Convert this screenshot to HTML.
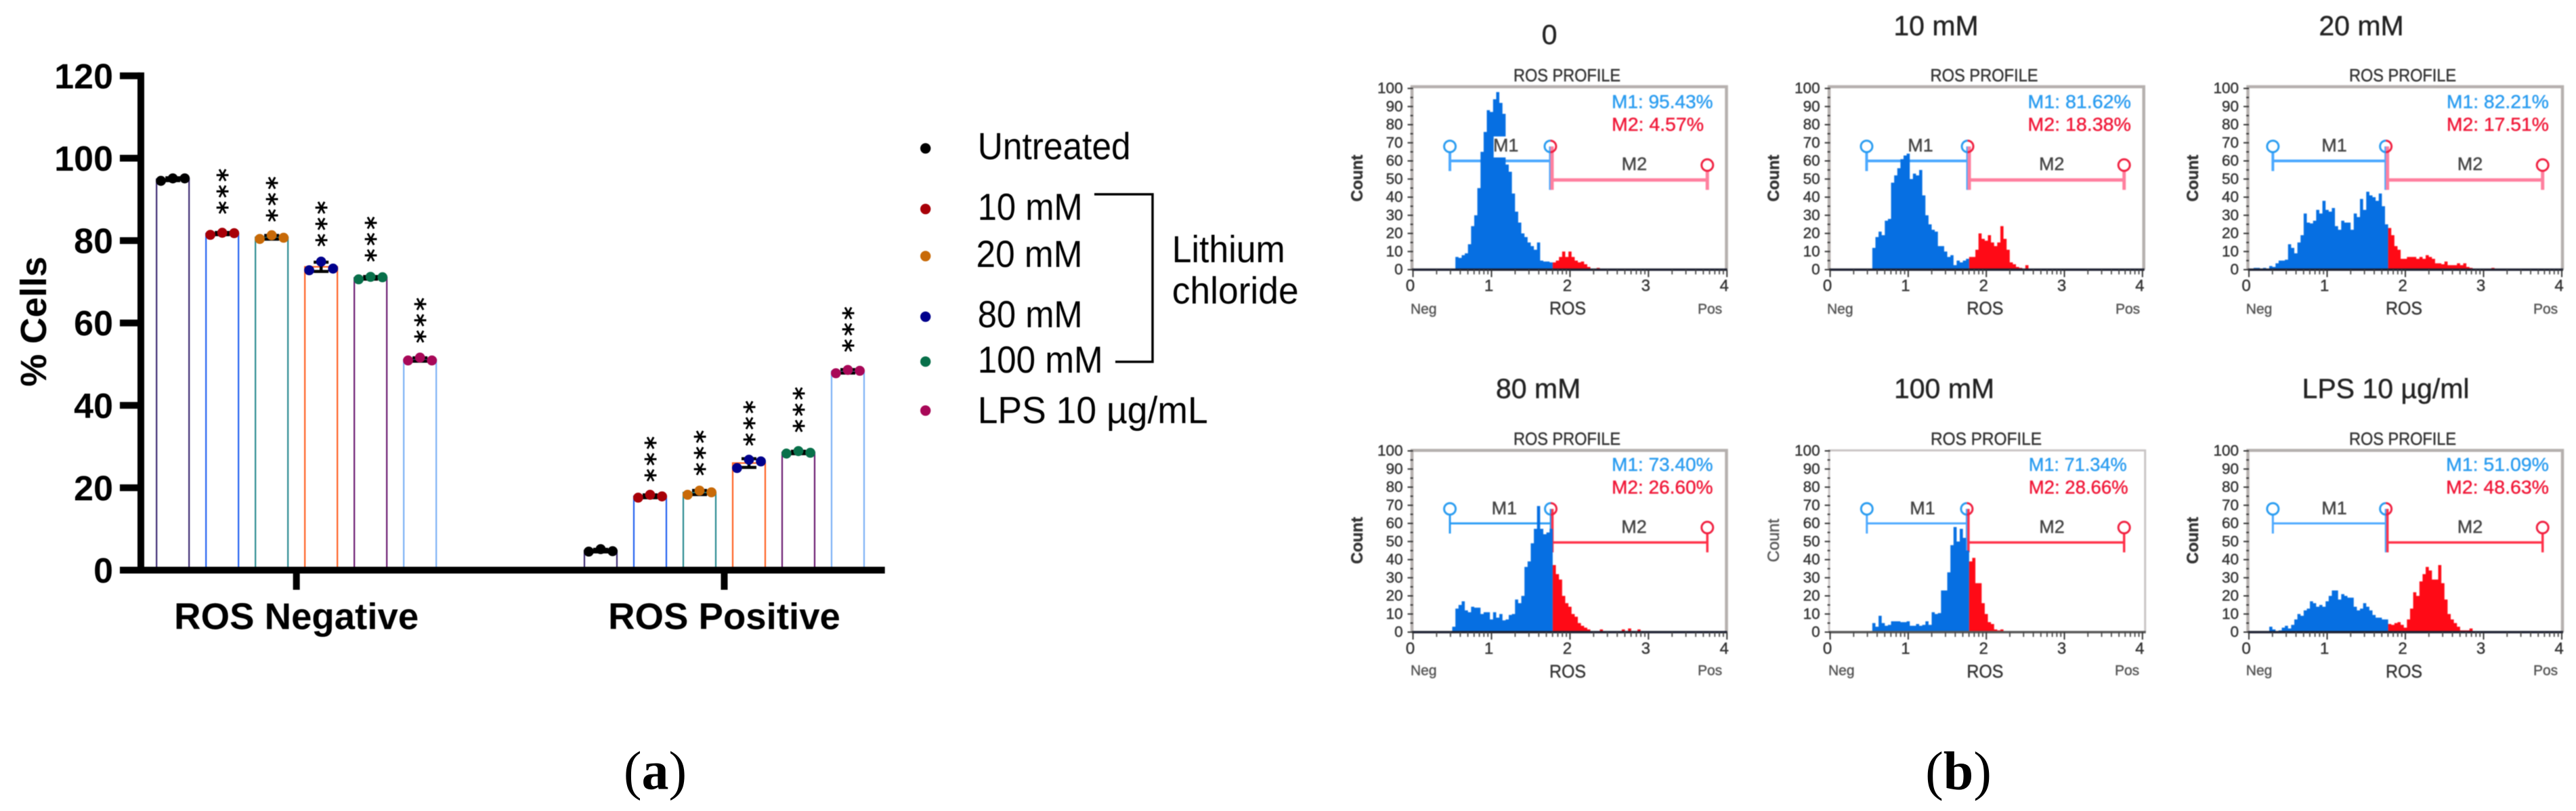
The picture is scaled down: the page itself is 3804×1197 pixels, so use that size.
<!DOCTYPE html>
<html lang="en">
<head>
<meta charset="utf-8">
<title>ROS profile figure</title>
<style>
html,body{margin:0;padding:0;background:#fff;}
svg{display:block;font-family:"Liberation Sans",Arial,sans-serif;}
#panels text{stroke-width:.45px;}
</style>
</head>
<body>
<svg id="figure" xmlns="http://www.w3.org/2000/svg" width="3804" height="1197" viewBox="0 0 3804 1197">
  <rect x="0" y="0" width="3804" height="1197" fill="#ffffff"/>
  <g id="barChart" style="filter:blur(.5px)"></g>
  <g id="legend" style="filter:blur(.5px)" fill="#000" font-size="56">
    <circle cx="1366.7" cy="219" r="7.7" fill="#000000"/>
    <text x="1443.7" y="234.9" textLength="226" lengthAdjust="spacingAndGlyphs">Untreated</text>
    <circle cx="1366.7" cy="308.5" r="7.7" fill="#a80008"/>
    <text x="1443.7" y="324.7" textLength="155" lengthAdjust="spacingAndGlyphs">10 mM</text>
    <circle cx="1366.7" cy="378" r="7.7" fill="#c86a08"/>
    <text x="1441.5" y="393.8" textLength="157" lengthAdjust="spacingAndGlyphs">20 mM</text>
    <circle cx="1366.7" cy="467.4" r="7.7" fill="#00008c"/>
    <text x="1443.7" y="483.2" textLength="155" lengthAdjust="spacingAndGlyphs">80 mM</text>
    <circle cx="1366.7" cy="533.7" r="7.7" fill="#08704a"/>
    <text x="1443.7" y="549.9" textLength="185" lengthAdjust="spacingAndGlyphs">100 mM</text>
    <circle cx="1366.7" cy="606" r="7.7" fill="#a80858"/>
    <text x="1443.7" y="624.6" textLength="340" lengthAdjust="spacingAndGlyphs">LPS 10 µg/mL</text>
    <path d="M1616 286.8H1702V534H1647" fill="none" stroke="#000" stroke-width="3.5"/>
    <text x="1730.7" y="386.8" textLength="167" lengthAdjust="spacingAndGlyphs">Lithium</text>
    <text x="1730.7" y="448" textLength="187" lengthAdjust="spacingAndGlyphs">chloride</text>
  </g>
  <g id="panels" style="filter:blur(.9px)"></g>
  <text x="967.5" y="1164.5" text-anchor="middle" font-family="'Liberation Serif',serif" font-size="80">(<tspan font-weight="bold">a</tspan>)</text>
  <text x="2892" y="1165" text-anchor="middle" font-family="'Liberation Serif',serif" font-size="80">(<tspan font-weight="bold">b</tspan>)</text>
</svg>
<script>
/* ---------- bar chart data ---------- */
const groupNames = ['ROS Negative', 'ROS Positive'];
const categories = ['Untreated', '10 mM', '20 mM', '80 mM', '100 mM', 'LPS 10 ug/mL'];
const yTickValues = [0, 20, 40, 60, 80, 100, 120];
const negUntreated = [94.5, 95.1, 95.1];
const neg10mM = [81.4, 81.9, 81.8];
const neg20mM = [80.4, 81.3, 80.7];
const neg80mM = [72.8, 74.9, 73.2];
const neg100mM = [70.6, 71.2, 71.1];
const negLPS = [50.9, 51.6, 50.9];
const posUntreated = [4.5, 5.1, 4.6];
const pos10mM = [17.6, 18.3, 17.9];
const pos20mM = [18.3, 19.3, 18.9];
const pos80mM = [24.8, 26.8, 26.4];
const pos100mM = [28.3, 28.9, 28.5];
const posLPS = [47.8, 48.6, 48.4];
const negSignificance = [null, 88, 86.1, 80.1, 76.4, 56.7];
const posSignificance = [null, 23, 24.5, 31.7, 35, 54.5];
const barStrokes = ['#3c2a72', '#2060f0', '#2a8a90', '#ff6020', '#6a1a70', '#7ab0f5'];
const dotFills = ['#000000', '#a80008', '#c86a08', '#00008c', '#08704a', '#a80858'];

/* ---------- histogram data: counts per 0.04-decade bin ---------- */
const histStartBins = [14, 14, 2, 13, 14, 4];
const hist0M1 = [7,6.5,8,9,14,24,30,45,65,76,88,87,94,98,92,86,58,54,42,32,26,20,18,15,13,11,15,5,4.5,4.5,4];
const hist0M2 = [4,5,7,10,7,10,7,5,4,4.5,3,1.5,0.5,0,1];
const hist1M1 = [12,18,21,19,27,28,48,52,56,61,63,64,50,53,52,55,41,30,25,22,21,13,13,10,7,8,2.5,5,4,5,6];
const hist1M2 = [7,7,11,20,17,16,19,15,13,15,24,17,11,4,3,1.5,1,0.5,2.5];
const hist2M1 = [1,1,0.5,1,0.5,2,1.5,3.5,5,5,5.5,14,12,9,15,19,31,26,25.5,27,33,31,38,33,32,34,24,22,27,26,26,22,31,29,39,33,43,41,40,38,42,35,25];
const hist2M2 = [23,19,13,11,6,6,7,7,7,6,7,6,8,7,6,3.5,3.5,3,4.5,2.5,2.5,2.5,3.5,2.5,3.5,1.5,1,0.5,0.5,0,0.5,0.5,0.5,1];
const hist3M1 = [3,13,15,17,12,11,14,13.5,13.5,10,11,11,7,11,8,10,6.5,7,9.5,10,18,16,20,36,39,49,57,69.6,57,54,55,57];
const hist3M2 = [37,32,29,20,16,14,10,8.5,5,3.5,2.5,1.5,0.5,0,0,1.5,0,0,0,0,0,0,1.5,0,2,0,0,1.5];
const hist4M1 = [5,3,9,5,3.5,4,6,6,6,5.5,5.5,6,3.5,3.5,4.5,3.5,4,6,4,11,10,10.5,23,23,33,48,58,50,57,52,45];
const hist4M2 = [39,41,27,27,16,10,5.5,4.5,1.5,1,1.5];
const hist5M1 = [0.5,0,0,3,1.5,0.5,1,2.5,3.5,2,4,7,10,9,12,13,17,16,14,15,14,17,20,23,23,18,21,20,19,19,14,12,13,16,14,12,9.5,8,8,7,7];
const hist5M2 = [4.5,4,5,5.5,4,2.5,7,13,22,20,28,32,36,34,29,29,37,27,18,10,7,5,3,1,1,1,2];
const histM1 = [hist0M1, hist1M1, hist2M1, hist3M1, hist4M1, hist5M1];
const histM2 = [hist0M2, hist1M2, hist2M2, hist3M2, hist4M2, hist5M2];

/* gates, in axis units */
const gateStarts = [0.47, 0.467, 0.306, 0.47, 0.47, 0.306];
const gateSplits = [1.75, 1.76, 1.75, 1.755, 1.75, 1.75];
const gateEnds = [3.75, 3.765, 3.755, 3.75, 3.765, 3.755];
const gateM1Level = 60;
const gateM2Level = 49.5;
const m1Percents = ['95.43', '81.62', '82.21', '73.40', '71.34', '51.09'];
const m2Percents = ['4.57', '18.38', '17.51', '26.60', '28.66', '48.63'];
const panelTitles = ['0', '10 mM', '20 mM', '80 mM', '100 mM', 'LPS 10 µg/ml'];
const histYTicks = [0, 10, 20, 30, 40, 50, 60, 70, 80, 90, 100];
const histXTicks = [0, 1, 2, 3, 4];

/* ---------- helpers ---------- */
const NS = 'http://www.w3.org/2000/svg';
function make(tag, attrs, parent, text) {
  const el = document.createElementNS(NS, tag);
  for (const k in attrs) el.setAttribute(k, attrs[k]);
  if (text !== undefined) el.textContent = text;
  parent.appendChild(el);
  return el;
}
function mean(a) { return a.reduce((s, v) => s + v, 0) / a.length; }
function sd(a) { const m = mean(a); return Math.sqrt(a.reduce((s, v) => s + (v - m) * (v - m), 0) / (a.length - 1)); }

/* ---------- bar chart ---------- */
const barChart = document.getElementById('barChart');
const negGroup = [negUntreated, neg10mM, neg20mM, neg80mM, neg100mM, negLPS];
const posGroup = [posUntreated, pos10mM, pos20mM, pos80mM, pos100mM, posLPS];
const groupData = [negGroup, posGroup];
const groupSignificance = [negSignificance, posSignificance];
function yScale(v) { return 841.5 - 6.08 * v; }
function groupCenter(g) { return 437.7 + g * 631.8; }
function xScale(g, c) { return groupCenter(g) + (c - (categories.length - 1) / 2) * 73; }
const barWidth = 48;
const dotSpread = 17.6;

groupData.forEach(function (series, g) {
  series.forEach(function (reps, c) {
    const cx = xScale(g, c);
    const m = mean(reps);
    const s = sd(reps);
    const bar = make('rect', { x: cx - barWidth / 2, y: yScale(m), width: barWidth, height: yScale(0) - yScale(m), fill: '#fff', stroke: barStrokes[c], 'stroke-width': 2.2 }, barChart);
    
    
    const errorBar = make('path', { d: 'M' + (cx - 11) + ' ' + yScale(m + s) + 'H' + (cx + 11) + 'M' + cx + ' ' + yScale(m + s) + 'V' + yScale(m - s) + 'M' + (cx - 11) + ' ' + yScale(m - s) + 'H' + (cx + 11), fill: 'none', stroke: '#000', 'stroke-width': 4.5 }, barChart);
    
    
    reps.forEach(function (v, i) {
      const dot = make('circle', { cx: cx + (i - 1) * dotSpread, cy: yScale(v), r: 7.4, fill: dotFills[c] }, barChart);
      
      
    });
    const level = groupSignificance[g][c];
    if (level !== null) {
      const fs = 38;
      const star = make('text', { transform: 'translate(' + (cx + 1 + 0.5 * fs) + ',' + (yScale(level) + 0.26 * fs) + ') rotate(-90)', 'font-family': "'DejaVu Sans',sans-serif", 'font-weight': 'bold', 'font-size': fs, 'letter-spacing': 4.1, fill: '#000' }, barChart, '***');
      
      
    }
  });
});

const yAxisLine = make('rect', { x: 203, y: yScale(120) - 5, width: 10, height: yScale(0) - yScale(120) + 10, fill: '#000' }, barChart);


const xAxisLine = make('rect', { x: 177, y: yScale(0) - 5, width: 1306.7 - 177, height: 10, fill: '#000' }, barChart);



yTickValues.forEach(function (v) {
  const tick = make('rect', { x: 177, y: yScale(v) - 5, width: 30, height: 10, fill: '#000' }, barChart);
  
  
  const label = make('text', { x: 167, y: yScale(v) + 18.5, 'text-anchor': 'end', 'font-weight': 'bold', 'font-size': 52, fill: '#000' }, barChart, String(v));
  
  
});
groupNames.forEach(function (name, g) {
  const tick = make('rect', { x: groupCenter(g) - 5, y: yScale(0), width: 10, height: 29, fill: '#000' }, barChart);
  
  
  const label = make('text', { x: groupCenter(g), y: 928.5, 'text-anchor': 'middle', 'font-weight': 'bold', 'font-size': 54.6, fill: '#000' }, barChart, name);
  
  
});
const yTitle = make('text', { transform: 'translate(68,474.6) rotate(-90)', 'text-anchor': 'middle', 'font-weight': 'bold', 'font-size': 54, fill: '#000' }, barChart, '% Cells');



/* ---------- flow cytometry panels ---------- */
const panelsRoot = document.getElementById('panels');
const rowTop = { frameTop: 128, base: 398, titleY: 52, profileY: 120, m1Y: 159.6, m2Y: 193, m1LabelY: 223.4, m2LabelY: 250.8, xLabelY: 429.7, nameY: 464, sideY: 463, countY: 263, m1Width: 4, m2Width: 5, m2Color: '#ff7f9e' };
const rowBottom = { frameTop: 664.8, base: 933, titleY: 587.6, profileY: 656.3, m1Y: 694.9, m2Y: 728.6, m1LabelY: 759, m2LabelY: 786.7, xLabelY: 965, nameY: 1000, sideY: 996.7, countY: 797.7, m1Width: 3, m2Width: 3.5, m2Color: '#ff3048' };
const panelFrames = [
  { row: rowTop, x0: 2086.6, ux: 115.9, right: 2549.5, titleX: 2288, titleY: 65, profileX: 2314, profileW: 158, m1X: 2380, m1W: 149.5, m2W: 136, m1LabelX: 2223.7, m2LabelX: 2413.4, countX: 2012, nameX: 2315, negX: 2083, posX: 2507, mask: true },
  { row: rowTop, x0: 2702.6, ux: 115.3, right: 3165.7, titleX: 2859, profileX: 2930, profileW: 159, m1X: 2994.4, m1W: 152.6, m2W: 152.6, m1LabelX: 2836, m2LabelX: 3029.7, countX: 2627, nameX: 2931.4, negX: 2698, posX: 3124 },
  { row: rowTop, x0: 3321, ux: 115.5, right: 3784, titleX: 3487, profileX: 3548, profileW: 158, m1X: 3612.9, m1W: 151, m2W: 151, m1LabelX: 3447, m2LabelX: 3647.5, countX: 3246, nameX: 3550, negX: 3316.8, posX: 3741 },
  { row: rowBottom, x0: 2086.6, ux: 115.9, right: 2549.5, titleX: 2271.6, profileX: 2314, profileW: 158, m1X: 2380, m1W: 149.5, m2W: 149.5, m1LabelX: 2221.4, m2LabelX: 2413, countX: 2012, nameX: 2315, negX: 2083, posX: 2507 },
  { row: rowBottom, x0: 2702.6, ux: 115.3, right: 3167.7, titleX: 2871, profileX: 2933, profileW: 164, m1X: 2995.7, m1W: 145, m2W: 147, m1LabelX: 2839, m2LabelX: 3030, countX: 2627, nameX: 2931.4, negX: 2700, posX: 3123 },
  { row: rowBottom, x0: 3321, ux: 115.5, right: 3784, titleX: 3523, profileX: 3548, profileW: 158, m1X: 3612, m1W: 152, m2W: 152, m1LabelX: 3447, m2LabelX: 3647.5, countX: 3246, nameX: 3550, negX: 3316.8, posX: 3741 }
];
const binWidth = 0.04;
const countScale = 2.675;

panelFrames.forEach(function (p, idx) {
  const row = p.row;
  const px = function (v) { return p.x0 + v * p.ux; };
  const py = function (c) { return row.base - c * countScale; };
  const g = make('g', {}, panelsRoot);
  
  

  const title = make('text', { x: p.titleX, y: p.titleY || row.titleY, 'text-anchor': 'middle', 'font-size': 41, fill: '#222' }, g, panelTitles[idx]);
  
  
  const profile = make('text', { x: p.profileX, y: row.profileY, 'text-anchor': 'middle', 'font-size': 26, fill: '#333', textLength: p.profileW, lengthAdjust: 'spacingAndGlyphs' }, g, 'ROS PROFILE');
  
  

  const frame = make('path', { d: 'M' + (p.x0 - 1.5) + ' ' + row.base + 'V' + row.frameTop + 'H' + p.right + 'V' + row.base, fill: '#fff', stroke: idx === 4 ? '#c8c4c4' : '#b5b0ae', 'stroke-width': idx === 4 ? 3 : 4.5 }, g);
  
  

  /* gates drawn below the histogram */
  const m1Color = idx === 3 ? '#2a9cf5' : '#4aa8ff';
  const m1Path = make('path', { d: 'M' + px(gateStarts[idx]) + ' ' + py(68) + 'V' + py(54.4) + 'M' + px(gateStarts[idx]) + ' ' + py(gateM1Level) + 'H' + px(gateSplits[idx]) + 'M' + px(gateSplits[idx]) + ' ' + py(68) + 'V' + py(44), fill: 'none', stroke: m1Color, 'stroke-width': row.m1Width }, g);
  
  
  const splitRight = px(gateSplits[idx]) + 2.5;
  const m2Path = make('path', { d: 'M' + splitRight + ' ' + py(68) + 'V' + py(44) + 'M' + splitRight + ' ' + py(gateM2Level) + 'H' + px(gateEnds[idx]) + 'M' + px(gateEnds[idx]) + ' ' + py(57.7) + 'V' + py(44), fill: 'none', stroke: row.m2Color, 'stroke-width': row.m2Width }, g);
  
  
  [[gateStarts[idx], 68, '#2a9cf0'], [gateSplits[idx], 68, '#f02040'], [gateSplits[idx], 68, '#2a9cf0'], [gateEnds[idx], 57.7, '#f02040']].forEach(function (h, n) {
    const handle = n === 1 ? make('path', { d: 'M' + px(h[0]) + ' ' + (py(h[1]) - 8.5) + 'A8.5 8.5 0 0 1 ' + px(h[0]) + ' ' + (py(h[1]) + 8.5), fill: 'none', stroke: h[2], 'stroke-width': 3 }, g)
      : n === 2 ? make('path', { d: 'M' + px(h[0]) + ' ' + (py(h[1]) - 8.5) + 'A8.5 8.5 0 0 0 ' + px(h[0]) + ' ' + (py(h[1]) + 8.5), fill: 'none', stroke: h[2], 'stroke-width': 3 }, g)
      : make('circle', { cx: px(h[0]), cy: py(h[1]), r: 8.5, fill: '#fff', stroke: h[2], 'stroke-width': 3 }, g);
    
    
  });

  /* histogram areas from the count arrays */
  function areaPath(counts, startBin) {
    let d = 'M' + px((startBin - 0.5) * binWidth) + ' ' + py(0);
    counts.forEach(function (c, i) {
      const k = startBin + i;
      d += 'V' + py(c) + 'H' + px((k + 0.5) * binWidth);
    });
    return d + 'V' + py(0) + 'Z';
  }
  const areaM1 = make('path', { d: areaPath(histM1[idx], histStartBins[idx]), fill: '#066fe2' }, g);
  
  
  const areaM2 = make('path', { d: areaPath(histM2[idx], histStartBins[idx] + histM1[idx].length), fill: '#ff0a16' }, g);
  
  

  if (p.mask) {
    const mask = make('rect', { x: p.m1LabelX - 18, y: row.m1LabelY - 22, width: 36, height: 31, fill: '#fff' }, g);
    
    
  }
  const m1Label = make('text', { x: p.m1LabelX, y: row.m1LabelY, 'text-anchor': 'middle', 'font-size': 27, fill: '#444' }, g, 'M1');
  
  
  const m2Label = make('text', { x: p.m2LabelX, y: row.m2LabelY, 'text-anchor': 'middle', 'font-size': 27, fill: '#444' }, g, 'M2');
  
  
  const m1Text = make('text', { x: p.m1X, y: row.m1Y, 'font-size': 27.5, fill: '#2a9cf0', textLength: p.m1W, lengthAdjust: 'spacingAndGlyphs' }, g, 'M1: ' + m1Percents[idx] + '%');
  
  
  const m2Text = make('text', { x: p.m1X, y: row.m2Y, 'font-size': 27.5, fill: '#f01838', textLength: p.m2W, lengthAdjust: 'spacingAndGlyphs' }, g, 'M2: ' + m2Percents[idx] + '%');
  
  

  const baseline = make('line', { x1: p.x0 - 1.5, x2: p.right + 1, y1: row.base, y2: row.base, stroke: idx === 4 ? '#555' : '#1c2030', 'stroke-width': 3.5 }, g);
  
  

  /* y axis ticks and labels */
  histYTicks.forEach(function (c) {
    const tick = make('line', { x1: p.x0 - 8, x2: p.x0, y1: py(c), y2: py(c), stroke: '#333', 'stroke-width': 2 }, g);
    
    
    const label = make('text', { x: p.x0 - 15, y: py(c) + 7, 'text-anchor': 'end', 'font-size': 22.5, fill: '#333' }, g, String(c));
    
    
    if (c < 100) {
      const minor = make('line', { x1: p.x0 - 4, x2: p.x0, y1: py(c + 5), y2: py(c + 5), stroke: '#333', 'stroke-width': 2 }, g);
      
      
    }
  });

  /* x axis ticks (log decades) and labels */
  histXTicks.forEach(function (v) {
    const tick = make('line', { x1: px(v), x2: px(v), y1: row.base, y2: row.base + 11, stroke: '#333', 'stroke-width': 2 }, g);
    
    
    const label = make('text', { x: px(v) - 4, y: row.xLabelY, 'text-anchor': 'middle', 'font-size': 24, fill: '#333' }, g, String(v));
    
    
    if (v < 4) {
      for (let m = 2; m < 10; m++) {
        const minor = make('line', { x1: px(v + Math.log10(m)), x2: px(v + Math.log10(m)), y1: row.base, y2: row.base + 7, stroke: '#444', 'stroke-width': 1.8 }, g);
        
        
      }
    }
  });

  const xName = make('text', { x: p.nameX, y: row.nameY, 'text-anchor': 'middle', 'font-size': 27, fill: '#333', textLength: 54, lengthAdjust: 'spacingAndGlyphs' }, g, 'ROS');
  
  
  const neg = make('text', { x: p.negX, y: row.sideY, 'font-size': 21, fill: '#555' }, g, 'Neg');
  
  
  const pos = make('text', { x: p.posX, y: row.sideY, 'font-size': 21, fill: '#555' }, g, 'Pos');
  
  
  const count = make('text', { transform: 'translate(' + p.countX + ',' + row.countY + ') rotate(-90)', 'text-anchor': 'middle', 'font-size': 24, 'font-weight': idx === 4 ? 'normal' : 'bold', fill: idx === 4 ? '#555' : '#333' }, g, 'Count');
  
  
});

/* thicken the small panel text slightly to match the soft, heavy look of the scan */
panelsRoot.querySelectorAll('text').forEach(function (t) {
  t.setAttribute('stroke', t.getAttribute('fill'));
});
</script>
</body>
</html>
